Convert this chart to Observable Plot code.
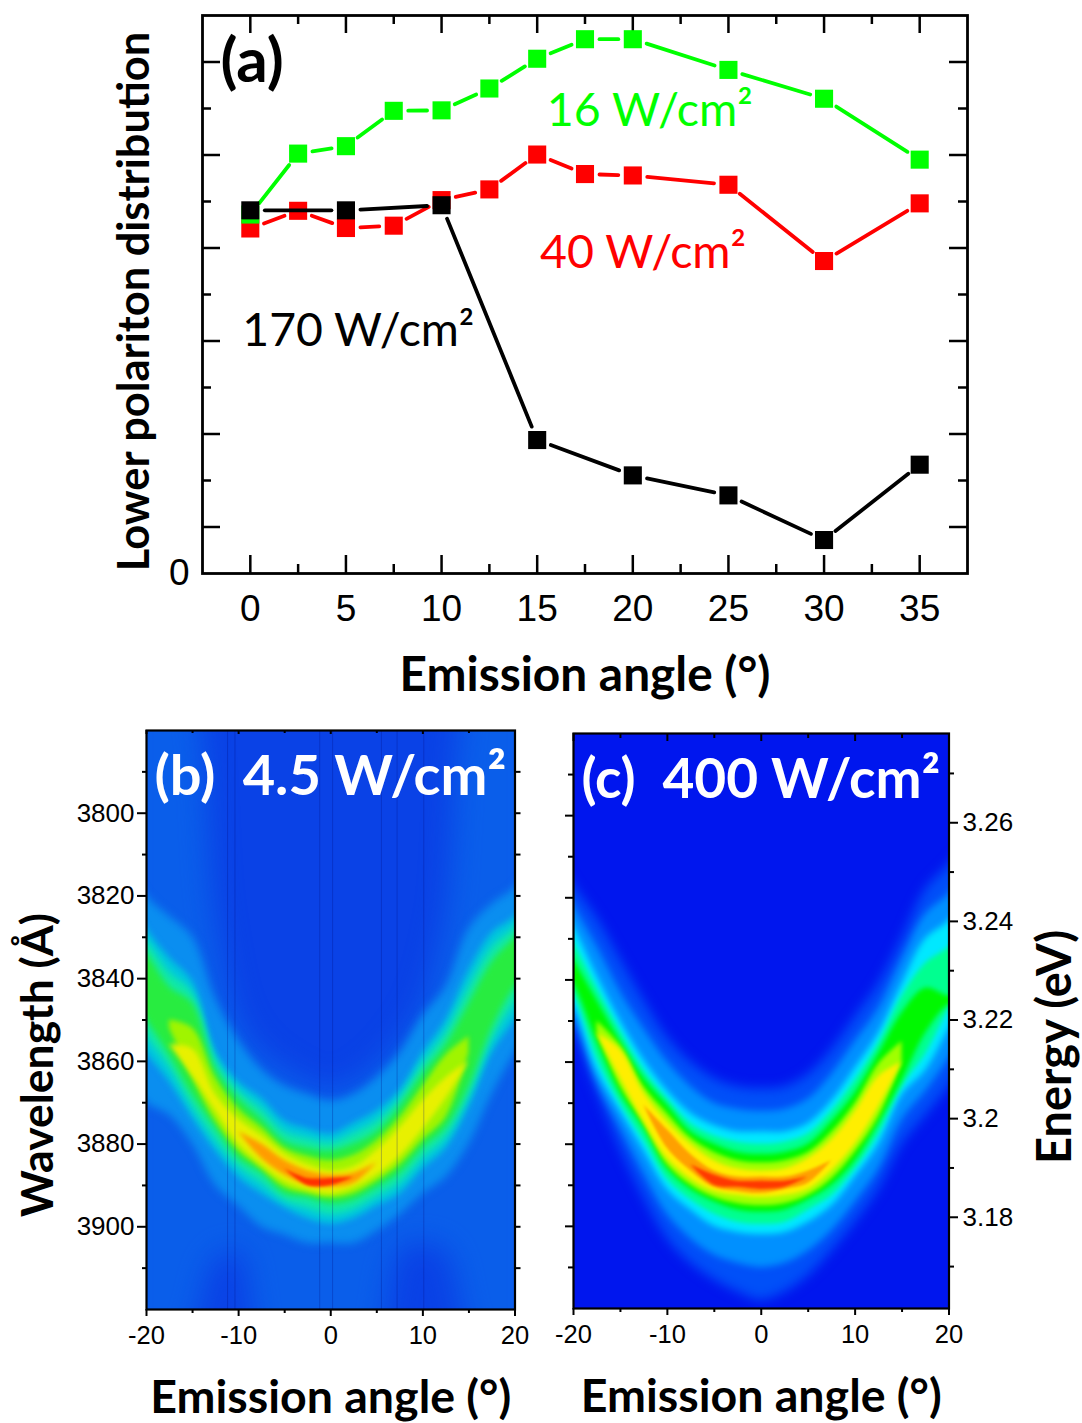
<!DOCTYPE html>
<html><head><meta charset="utf-8">
<script src="https://cdn.jsdelivr.net/npm/d3@7"></script>
<script src="https://cdn.jsdelivr.net/npm/@observablehq/plot@0.6"></script>
<style>html,body{margin:0;padding:0;background:#fff;overflow:hidden}#root{position:relative;width:1082px;height:1423px}</style>
</head><body><div id="root"></div>
<script>
// Panel (a)
const anglesFine=[0,2.5,5,7.5,10,12.5,15,17.5,20,25,30,35];
const anglesCoarse=[0,5,10,15,20,25,30,35];
const green16=[7.72,9.03,9.19,9.95,9.96,10.43,11.07,11.49,11.49,10.83,10.21,8.90];
const red40=[7.42,7.80,7.43,7.48,8.03,8.26,9.01,8.59,8.56,8.36,6.72,7.96];
const black170=[7.81,7.81,7.92,2.87,2.11,1.68,0.72,2.34];
const aXMajor=[0,5,10,15,20,25,30,35];
const aXMinor=[2.5,7.5,12.5,17.5,22.5,27.5,32.5];
const aYMajor=[1,3,5,7,9,11];
const aYMinor=[2,4,6,8,10];

// Shared angle columns of the contour tables (degrees)
const cols=[-22.5,-20,-17.5,-15,-12.5,-10,-7.5,-5,-2.5,0,2.5,5,7.5,10,12.5,15,17.5,20,22.5];
const colsHi=[-17.5,-15,-12.5,-10,-7.5,-5,-2.5,0,2.5,5,7.5,10,12.5,15];

// Panel (b): upper / lower wavelength of each colour level, per angle
const bL1Top=[3765,3765,3765,3770,3825,3850,3858,3862,3865,3867,3865,3861,3855,3846,3825,3770,3765,3765,3765];
const bL1Bot=[3935,3935,3930,3925,3908,3906,3928,3930,3930,3930,3930,3928,3906,3904,3906,3925,3930,3935,3935];
const bL2Top=[3810,3820,3825,3830,3845,3855,3862,3866,3868,3869.6,3868,3864,3858,3849,3842,3828,3822,3818,3810];
const bL2Bot=[3862,3870,3873,3880,3890,3895,3900,3902,3904,3904,3904,3901,3897,3892,3888,3880,3868,3858,3850];
const bL3Top=[3818,3828,3835,3840.7,3857.6,3865,3869,3874.5,3876.4,3877.6,3875,3872,3867,3858,3850,3838,3829,3825,3816];
const bL3Bot=[3850,3858,3865,3873.7,3881.7,3888,3892,3895.4,3898,3899.3,3898,3895,3892,3886,3881,3871,3858,3850,3842];
const bL4Top=[3826,3831,3838.5,3843.5,3859.5,3867,3871.5,3877,3878.7,3879.7,3877.5,3874.5,3869,3860.5,3853,3842,3832.5,3827.5,3820];
const bL4Bot=[3846,3854,3861.5,3871,3879,3885.5,3889.5,3893.7,3895.5,3897,3895.8,3892.8,3889.5,3883.5,3878.5,3868.5,3855,3846,3840];
const bL5Top=[3828,3834,3842,3846,3861.7,3869,3874,3879.3,3881,3881.7,3880,3877,3871,3863,3856,3846,3836,3830,3824];
const bL5Bot=[3842,3850,3858.5,3868,3876,3883.4,3887,3892,3893,3894.5,3893.5,3890.5,3887,3881,3876,3866,3852,3842,3836];
const bL6Top=[3850,3852,3864,3871.5,3876,3881,3883,3884,3882.7,3879.2,3873.5,3866,3858.5,3854];
const bL6Bot=[3852,3864,3874.5,3881.7,3886,3890.5,3892,3893,3892,3889,3885,3879,3873.5,3858];
const bL7Top=[3856,3857,3868,3874,3878,3882.4,3885,3886.5,3885.5,3881.5,3876,3869.5,3864,3860];
const bL7Bot=[3856,3863.5,3872,3880,3885,3889,3891,3892,3890.5,3887.5,3883,3876.5,3869,3860];
const bL8Cols=[-10,-7.5,-5,-2.5,0,2.5,5];
const bL8Top=[3877,3880,3884,3886.5,3887.5,3887,3884.5];
const bL8Bot=[3877,3883.5,3887.5,3890,3890.5,3889.5,3884.5];
const bL9Cols=[-5,-2.5,0,2.5];
const bL9Top=[3886,3888.3,3888.3,3888];
const bL9Bot=[3886,3890,3890,3888];
const bDarkColumns=[-11.2,-10.4,-1.2,0.2,5.5,7.2,10.1];

// Panel (c)
const cL1Top=[3808,3817,3825,3835,3845,3854,3860,3864,3866,3866.5,3866,3863,3857,3849,3841,3830,3818,3812,3805];
const cL1Bot=[3842,3852,3867,3881,3893,3903,3909,3913,3916,3918,3916,3912,3906,3899,3891,3880,3873,3866,3858];
const cL2Top=[3812,3822,3832,3843,3852,3860,3866,3870,3871.5,3872,3871.5,3869,3863,3855,3847,3835,3824,3819,3810];
const cL2Bot=[3840,3849,3865,3876,3887,3897,3903,3907,3909,3910,3909,3906,3901,3894,3886,3874,3867,3859,3850];
const cL3Top=[3817,3827,3839,3850,3859.5,3867,3872.5,3875.5,3877,3877,3877,3875,3869.5,3861.5,3853,3841,3830,3825.5,3816];
const cL3Bot=[3838,3846,3862,3872,3881.5,3891,3896,3900,3901.5,3902,3901.5,3899,3895,3888,3880,3868,3862,3852,3843];
const cL4Top=[3821,3831,3842,3852.5,3862,3869,3875,3878,3879.5,3880,3879.5,3877.5,3872,3864.5,3855.5,3844,3836,3832,3825];
const cL4Bot=[3836,3843.5,3859,3870,3879,3888.5,3893.5,3897,3899,3899.5,3899,3896,3892.5,3886,3877.5,3866,3858,3847,3838];
const cL5Top=[3825,3835,3845,3855,3864,3870.5,3877,3880,3882,3882.5,3882,3880,3874.5,3867.5,3858,3848,3842,3844,3844];
const cL5Bot=[3834,3841,3855,3867.5,3876,3886,3891,3894,3896,3896.5,3896,3893.5,3890,3884,3875,3864.5,3853,3846,3844];
const cL6Top=[3850,3856,3866,3872.5,3878.5,3882,3884,3884.5,3884,3882,3877,3870,3860.5,3855];
const cL6Bot=[3853,3866,3875,3885,3890,3893,3894.5,3895,3894.5,3892.5,3888.5,3882,3873.5,3860];
const cL7Top=[3853,3857,3867.5,3874.5,3880,3884,3886,3886.5,3886,3883.5,3879,3872,3863.5,3860];
const cL7Bot=[3853,3864,3874.5,3883.5,3888.5,3891.5,3892.5,3893,3892.5,3891,3886.5,3880,3871,3860];
const cL8Cols=[-12.5,-10,-7.5,-5,-2.5,0,2.5,5,7.5];
const cL8Top=[3870.5,3876.5,3882.5,3886.5,3888,3888,3888,3886.5,3884];
const cL8Bot=[3870.5,3881,3886.5,3890.5,3891.5,3892,3891,3889.5,3884];
const cL9Cols=[-7.5,-5,-2.5,0,2.5,5];
const cL9Top=[3885,3887.5,3889,3889,3889,3888];
const cL9Bot=[3885,3890,3890.5,3891,3890.5,3888];

// Heat-map axes
const hXMajor=[-20,-10,0,10,20];
const hXMinor=[-15,-5,5,15];
const hYMajor=[3800,3820,3840,3860,3880,3900];
const hYMinor=[3790,3810,3830,3850,3870,3890,3910];
const eMajor=[3.18,3.2,3.22,3.24,3.26];
const eMinor=[3.17,3.19,3.21,3.23,3.25,3.27];

const NUM='"Liberation Sans",Arial,sans-serif';
const LAB='Lato,sans-serif';
const root=document.getElementById("root");
const add=(svg,l,t)=>{svg.style.position="absolute";svg.style.left=l+"px";svg.style.top=t+"px";svg.style.maxWidth="none";svg.style.overflow="visible";svg.style.background="transparent";root.append(svg);};
const label=(s,opts)=>Plot.text([s],{text:d=>d,textAnchor:"middle",lineAnchor:"middle",fill:"#000",fontFamily:LAB,fontWeight:700,...opts});

// Panel (a) -----------------------------------------------------------------
const series=(xs,ys,color)=>{
  const pts=xs.map((x,i)=>({x,y:ys[i]}));
  return [
    Plot.arrow(d3.pairs(pts),{x1:d=>d[0].x,y1:d=>d[0].y,x2:d=>d[1].x,y2:d=>d[1].y,stroke:color,strokeWidth:3.8,headLength:0,inset:14.5,bend:0}),
    Plot.dot(pts,{x:"x",y:"y",symbol:"square",r:10.2,fill:color,stroke:"none"})
  ];
};
const aH=700;
add(Plot.plot({
  width:1082,height:aH,marginLeft:202,marginTop:15,marginRight:115,marginBottom:aH-573,
  x:{domain:[-2.5,37.5]},y:{domain:[0,12]},
  marks:[
    Plot.axisX({ticks:aXMajor,tickSize:0,tickPadding:21,fontSize:37,fontFamily:NUM,label:null,color:"#000"}),
    Plot.axisY({ticks:[0],tickSize:0,tickPadding:13,fontSize:37,fontFamily:NUM,label:null,color:"#000"}),
    Plot.ruleX(aXMajor,{insetTop:558-18,strokeWidth:2.5,stroke:"black"}),
    Plot.ruleX(aXMinor,{insetTop:558-9,strokeWidth:2.5,stroke:"black"}),
    Plot.ruleX(aXMajor,{insetBottom:558-18,strokeWidth:2.5,stroke:"black"}),
    Plot.ruleX(aXMinor,{insetBottom:558-9,strokeWidth:2.5,stroke:"black"}),
    Plot.ruleY(aYMajor,{insetRight:765-18,strokeWidth:2.5,stroke:"black"}),
    Plot.ruleY(aYMinor,{insetRight:765-9,strokeWidth:2.5,stroke:"black"}),
    Plot.ruleY(aYMajor,{insetLeft:765-18,strokeWidth:2.5,stroke:"black"}),
    Plot.ruleY(aYMinor,{insetLeft:765-9,strokeWidth:2.5,stroke:"black"}),
    Plot.frame({stroke:"black",strokeWidth:2.8}),
    ...series(anglesFine,red40,"#ff0000"),
    ...series(anglesFine,green16,"#00ff00"),
    ...series(anglesCoarse,black170,"#000000"),
    label("16 W/cm²",{x:[15.5],y:[9.95],textAnchor:"start",fill:"#00ff00",fontSize:46.5,fontWeight:400}),
    label("40 W/cm²",{x:[15.15],y:[6.9],textAnchor:"start",fill:"#ff0000",fontSize:46.5,fontWeight:400}),
    label("170 W/cm²",{x:[-0.42],y:[5.22],textAnchor:"start",fontSize:46.3,fontWeight:400}),
    label("(a)",{frameAnchor:"top-left",dx:18,dy:47,textAnchor:"start",fontSize:62}),
    label("Emission angle (°)",{frameAnchor:"bottom",dy:102,fontSize:47.8}),
    label("Lower polariton distribution",{frameAnchor:"left",dx:-67,dy:7,rotate:-90,fontSize:43.4})
  ]
}),0,0);

// Heat maps -----------------------------------------------------------------
const band=(xs,lo,hi,fill,blur)=>Plot.area(xs.map((x,i)=>({x,lo:lo[i],hi:hi[i]})),
  {x1:"x",y1:"lo",y2:"hi",fill,curve:"catmull-rom",clip:true,imageFilter:`blur(${blur}px)`});
const heatAxes=(h,topMaj,topMin)=>[
  Plot.ruleX(hXMajor,{insetBottom:h-topMaj,strokeWidth:2,stroke:"black"}),
  Plot.ruleX(hXMinor,{insetBottom:h-topMin,strokeWidth:2,stroke:"black"}),
  Plot.frame({stroke:"black",strokeWidth:2.2}),
  Plot.axisX({ticks:hXMajor,tickSize:7,tickPadding:9,fontSize:25.5,fontFamily:NUM,label:null,color:"#000",strokeWidth:2,tickFormat:d=>String(d)}),
  Plot.axisX({ticks:hXMinor,tickSize:4,tickFormat:()=>"",label:null,strokeWidth:2}),
  label("Emission angle (°)",{frameAnchor:"bottom",dy:89,fontSize:46.5})
];

const H2=680;
// Panel (b)
add(Plot.plot({
  width:540,height:H2,marginLeft:146,marginTop:30,marginRight:25.5,marginBottom:H2-609,
  x:{domain:[-20,20]},y:{domain:[3920,3780]},
  marks:[
    Plot.frame({fill:"#0a42e6"}),
    band(cols,bL1Top,bL1Bot,"#0a5eea",14),
    band(cols,bL2Top,bL2Bot,"#0a8ef0",4),
    band(cols,bL3Top,bL3Bot,"#00c8dc",3),
    band(cols,bL4Top,bL4Bot,"#10e8a8",3),
    band(cols,bL5Top,bL5Bot,"#28ec40",3),
    band(colsHi,bL6Top,bL6Bot,"#a0f400",2.5),
    band(colsHi,bL7Top,bL7Bot,"#e8f000",2.5),
    band(bL8Cols,bL8Top,bL8Bot,"#ff9c00",2),
    band(bL9Cols,bL9Top,bL9Bot,"#ff3000",1.5),
    Plot.ruleX(bDarkColumns,{stroke:"#001080",strokeOpacity:0.28,strokeWidth:1}),
    ...heatAxes(579,4,3),
    Plot.axisY({ticks:hYMajor,tickSize:9,tickPadding:3,fontSize:26,fontFamily:NUM,label:null,color:"#000",strokeWidth:2,tickFormat:d=>String(d)}),
    Plot.axisY({ticks:hYMinor,tickSize:4,tickFormat:()=>"",label:null,strokeWidth:2}),
    Plot.axisY({anchor:"right",ticks:hYMajor.concat(hYMinor),tickSize:5,tickFormat:()=>"",label:null,strokeWidth:2}),
    label("(b)  4.5 W/cm²",{frameAnchor:"top-left",dx:8,dy:47,textAnchor:"start",fill:"#fff",fontSize:56}),
    label("Wavelength (Å)",{frameAnchor:"left",dx:-108,dy:45,rotate:-90,fontSize:44.5})
  ]
}),0,700);

// Panel (c)
add(Plot.plot({
  width:410,height:H2,marginLeft:33,marginTop:33,marginRight:1.5,marginBottom:H2-608,
  x:{domain:[-20,20]},y:{domain:[3920,3780]},
  marks:[
    Plot.frame({fill:"#0016ee"}),
    band(cols,cL1Top,cL1Bot,"#0050f8",6),
    band(cols,cL2Top,cL2Bot,"#0090ff",3.5),
    band(cols,cL3Top,cL3Bot,"#00e8ff",3),
    band(cols,cL4Top,cL4Bot,"#00ff90",2.5),
    band(cols,cL5Top,cL5Bot,"#00f800",2.5),
    band(colsHi,cL6Top,cL6Bot,"#a0ff00",2),
    band(colsHi,cL7Top,cL7Bot,"#ffee00",2),
    band(cL8Cols,cL8Top,cL8Bot,"#ffa000",1.5),
    band(cL9Cols,cL9Top,cL9Bot,"#ff3800",1.5),
    ...heatAxes(575,8,5),
    Plot.axisY({ticks:hYMajor,tickSize:8,tickFormat:()=>"",label:null,strokeWidth:2}),
    Plot.axisY({ticks:hYMinor,tickSize:5,tickFormat:()=>"",label:null,strokeWidth:2}),
    label("(c)  400 W/cm²",{frameAnchor:"top-left",dx:8,dy:47,textAnchor:"start",fill:"#fff",fontSize:55})
  ]
}),540,700);

// Energy axis of panel (c)
add(Plot.plot({
  width:132,height:H2,marginLeft:0,marginTop:33,marginRight:124,marginBottom:H2-608,
  x:{axis:null,domain:[0,1]},y:{domain:[3.1615,3.2781],axis:null},
  marks:[
    Plot.ruleY(eMajor,{strokeWidth:2,stroke:"black"}),
    Plot.ruleY(eMinor,{insetRight:4,strokeWidth:2,stroke:"black"}),
    Plot.axisY({anchor:"right",ticks:eMajor,tickSize:0,tickPadding:4,fontSize:26,fontFamily:NUM,label:null,color:"#000",tickFormat:d=>d===3.2?"3.2":d.toFixed(2)}),
    label("Energy (eV)",{frameAnchor:"left",dx:105,dy:26,rotate:-90,fontSize:47})
  ]
}),949.5,700);
</script></body></html>
